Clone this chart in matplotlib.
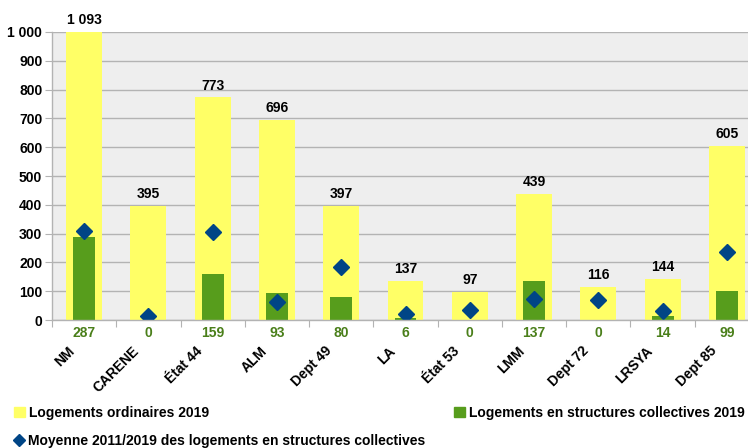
import matplotlib
matplotlib.use("Agg")
import matplotlib.pyplot as plt
from matplotlib.lines import Line2D
from matplotlib.patches import Patch
from matplotlib.ticker import FuncFormatter, FixedLocator
import matplotlib.transforms as mtransforms

plt.rcParams['font.family'] = ['Liberation Sans', 'DejaVu Sans']
plt.rcParams['font.weight'] = 'bold'

categories = ["NM", "CARENE", "État 44", "ALM", "Dept 49", "LA", "État 53",
              "LMM", "Dept 72", "LRSYA", "Dept 85"]
ordinaires_2019 = [1093, 395, 773, 696, 397, 137, 97, 439, 116, 144, 605]
collectives_2019 = [287, 0, 159, 93, 80, 6, 0, 137, 0, 14, 99]
moyenne_2011_2019 = [309, 14, 305, 62, 184, 20, 35, 74, 70, 31, 235]
y_ticks = [0, 100, 200, 300, 400, 500, 600, 700, 800, 900, 1000]

YELLOW = "#ffff66"
GREEN = "#579d1c"
GREEN_TXT = "#4a7f1a"
BLUE = "#004586"
GRID = "#b3b3b3"

W, H = 748, 448
fig = plt.figure(figsize=(W / 100, H / 100), dpi=100)
# plot area runs slightly past the right edge of the figure
ax = fig.add_axes([52 / W, 128 / H, 707 / W, 288 / H])
ax.set_facecolor("#eeeeee")

x = list(range(len(categories)))
bars_o = ax.bar(x, ordinaires_2019, width=0.56, color=YELLOW, zorder=2)
bars_c = ax.bar(x, collectives_2019, width=0.34, color=GREEN, zorder=3)
marks = ax.plot(x, moyenne_2011_2019, linestyle="none", marker="D",
                markersize=8.2, color=BLUE, zorder=4)[0]

ax.set_xlim(-0.5, len(categories) - 0.5)
ax.set_ylim(0, 1000)
ax.yaxis.set_major_locator(FixedLocator(y_ticks))
ax.yaxis.set_major_formatter(FuncFormatter(lambda v, p: f"{int(v):,}".replace(",", " ")))
ax.grid(axis="y", color=GRID, linewidth=1.0, zorder=1)
ax.set_axisbelow(True)

for s in ["top", "right"]:
    ax.spines[s].set_visible(False)
for s in ["left", "bottom"]:
    ax.spines[s].set_color(GRID)
    ax.spines[s].set_linewidth(1.0)
    ax.spines[s].set_zorder(5)

ax.tick_params(axis="y", length=5, color=GRID, labelsize=10, pad=2)
ax.set_xticks([i - 0.5 for i in range(len(categories) + 1)])
ax.set_xticklabels([])
ax.tick_params(axis="x", length=5, color=GRID)
for lab in ax.get_yticklabels():
    lab.set_fontweight("bold")

# values of ordinary housing above the yellow bars
for xi, v in zip(x, ordinaires_2019):
    ax.annotate(f"{v:,}".replace(",", " "), (xi, min(v, 1000)),
                xytext=(0, 3.5), textcoords="offset points", ha="center",
                va="bottom", fontsize=10, fontweight="bold", color="black",
                annotation_clip=False)

# collective housing values under the axis
xtr = ax.get_xaxis_transform()
for xi, v in zip(x, collectives_2019):
    ax.text(xi, 0, str(v), transform=xtr + mtransforms.ScaledTranslation(0, -13 / 100, fig.dpi_scale_trans),
            ha="center", va="center", fontsize=10, fontweight="bold", color=GREEN_TXT)

# rotated category names
for xi, name in zip(x, categories):
    ax.text(xi, 0, name,
            transform=xtr + mtransforms.ScaledTranslation(-12 / 100, -29 / 100, fig.dpi_scale_trans),
            ha="right", va="center", rotation=45, rotation_mode="anchor",
            fontsize=10, fontweight="bold", color="black")

# legend entries
leg_kw = dict(frameon=False, handlelength=0.8, handleheight=0.8,
              handletextpad=0.3, borderpad=0, borderaxespad=0,
              prop={"weight": "bold", "size": 10})
l1 = fig.legend([Patch(color=YELLOW)], ["Logements ordinaires 2019"],
                loc="center left", bbox_to_anchor=(14 / W, 1 - 413 / H), **leg_kw)
l2 = fig.legend([Patch(color=GREEN)], ["Logements en structures collectives 2019"],
                loc="center left", bbox_to_anchor=(454 / W, 1 - 413 / H), **leg_kw)
l3 = fig.legend([Line2D([], [], linestyle="none", marker="D", markersize=6, color=BLUE)],
                ["Moyenne 2011/2019 des logements en structures collectives"],
                loc="center left", bbox_to_anchor=(13 / W, 1 - 441 / H), **leg_kw)

fig.savefig("out.png", dpi=100)
